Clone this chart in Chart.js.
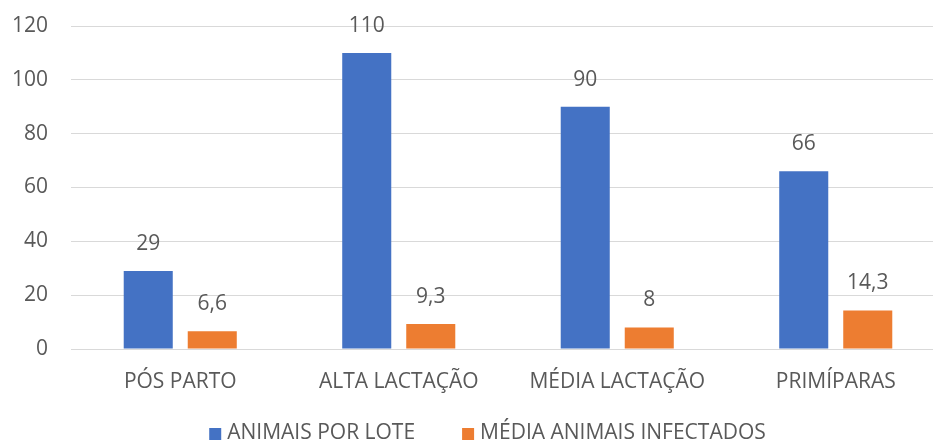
<!DOCTYPE html>
<html lang="pt-BR">
<head>
<meta charset="utf-8">
<title>Animais por lote</title>
<script src="https://cdn.jsdelivr.net/npm/chart.js@4/dist/chart.umd.min.js"></script>
<style>
  html, body { margin: 0; padding: 0; background: #ffffff; overflow: hidden; }
  #wrap { width: 933px; height: 441px; overflow: hidden; position: relative; }
  canvas { position: absolute; left: 0; top: 0; }
</style>
</head>
<body>
<div id="wrap"><canvas id="chart" width="975" height="450"></canvas></div>
<script>
// Categorias (lotes) e séries
const categorias = ['PÓS PARTO', 'ALTA LACTAÇÃO', 'MÉDIA LACTAÇÃO', 'PRIMÍPARAS'];
const animaisPorLote = [29, 110, 90, 66];
const mediaInfectados = [6.6, 9.3, 8, 14.3];
const nomesSeries = ['ANIMAIS POR LOTE', 'MÉDIA ANIMAIS INFECTADOS'];
const ticksY = [0, 20, 40, 60, 80, 100, 120];

const AZUL = '#4472C4';
const LARANJA = '#ED7D31';
const TEXTO = '#595959';
const FONTE = '"Open Sans", "Liberation Sans", sans-serif';
const TAM = 21;

const fmt = v => String(v).replace('.', ',');

// Rótulos de valor acima de cada barra
const rotulosValor = {
  id: 'rotulosValor',
  afterDatasetsDraw(chart) {
    const ctx = chart.ctx;
    ctx.save();
    ctx.font = TAM + 'px ' + FONTE;
    ctx.fillStyle = TEXTO;
    ctx.textAlign = 'center';
    ctx.textBaseline = 'middle';
    chart.data.datasets.forEach((ds, i) => {
      const meta = chart.getDatasetMeta(i);
      meta.data.forEach((bar, j) => {
        ctx.fillText(fmt(ds.data[j]), bar.x, bar.y - 27);
      });
    });
    ctx.restore();
  }
};

// Legenda horizontal centralizada na base
const legendaBase = {
  id: 'legendaBase',
  afterDraw(chart) {
    const ctx = chart.ctx;
    ctx.save();
    ctx.font = TAM + 'px ' + FONTE;
    ctx.textBaseline = 'middle';
    ctx.textAlign = 'left';
    const caixa = 12, respiro = 6, entre = 47;
    const itens = chart.data.datasets.map(ds => ({
      texto: ds.label, cor: ds.backgroundColor, w: ctx.measureText(ds.label).width
    }));
    const total = itens.reduce((s, it) => s + caixa + respiro + it.w, 0) + entre * (itens.length - 1);
    let x = chart.width / 2 - total / 2;
    const yc = 433;
    itens.forEach(it => {
      ctx.fillStyle = it.cor;
      ctx.fillRect(x, yc - caixa / 2 + 1, caixa, caixa);
      x += caixa + respiro;
      ctx.fillStyle = TEXTO;
      ctx.fillText(it.texto, x, yc);
      x += it.w + entre;
    });
    ctx.restore();
  }
};

new Chart(document.getElementById('chart'), {
  type: 'bar',
  data: {
    labels: categorias,
    datasets: [
      { label: nomesSeries[0], data: animaisPorLote, backgroundColor: AZUL },
      { label: nomesSeries[1], data: mediaInfectados, backgroundColor: LARANJA }
    ]
  },
  options: {
    responsive: false,
    devicePixelRatio: 1,
    animation: false,
    layout: { padding: { top: 26, bottom: 41, left: 0, right: 30 } },
    datasets: { bar: { barPercentage: 0.766, categoryPercentage: 0.586 } },
    plugins: {
      legend: { display: false },
      tooltip: { enabled: false }
    },
    scales: {
      x: {
        grid: { display: false },
        border: { display: false },
        ticks: { color: TEXTO, font: { family: FONTE, size: TAM }, padding: 12, maxRotation: 0 },
        afterFit(s) { s.height = 60; }
      },
      y: {
        min: ticksY[0],
        max: ticksY[ticksY.length - 1],
        afterBuildTicks(s) { s.ticks = ticksY.map(v => ({ value: v })); },
        grid: { color: '#D9D9D9', lineWidth: 1, drawTicks: false },
        border: { display: false },
        ticks: { color: TEXTO, font: { family: FONTE, size: TAM }, padding: 23 },
        afterFit(s) {
          s.width = 71;
          s.paddingTop = 0;
          s.paddingBottom = 0;
        }
      }
    }
  },
  plugins: [rotulosValor, legendaBase]
});
</script>
</body>
</html>
